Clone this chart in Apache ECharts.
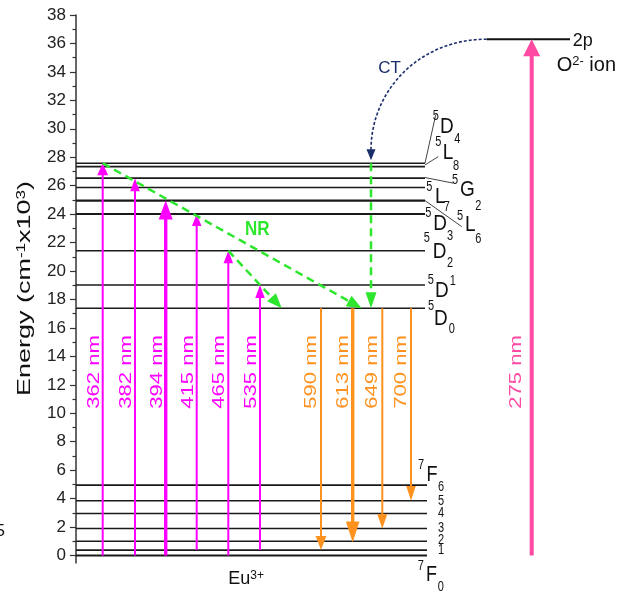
<!DOCTYPE html>
<html><head><meta charset="utf-8">
<script src="https://cdn.jsdelivr.net/npm/echarts@6/dist/echarts.min.js"></script>
<style>html,body{margin:0;padding:0;background:#fff}#c{width:634px;height:593px}</style>
</head><body><div id="c"></div>
<script>
// ---------------- data (energies in 10^3 cm^-1) ----------------
const upperLevelNames = ['5D0','5D1','5D2','5D3','5L6','5L7','5G2','5L8','5D4'];
const upperLevels     = [17.38, 19.02, 21.43, 24.01, 24.95, 25.87, 26.53, 27.34, 27.58];
const lowerLevelNames = ['7F0','7F1','7F2','7F3','7F4','7F5','7F6'];
const lowerLevels     = [0, 0.38, 1.0, 1.9, 2.95, 3.85, 4.95];
const excitationLabels = ['362 nm','382 nm','394 nm','415 nm','465 nm','535 nm'];
const excitationFrom   = [0, 0, 0, 0.38, 0, 0.38];
const excitationTo     = [27.58, 26.53, 24.95, 24.01, 21.43, 19.02];
const emissionLabels = ['590 nm','613 nm','649 nm','700 nm'];
const emissionFrom   = [17.38, 17.38, 17.38, 17.38];
const emissionTo     = [0.38, 0.92, 1.9, 3.85];
const nrFrom = [27.58, 21.43];
const nrTo   = [17.38, 17.38];
const oxygenLevel = 36.3;           // O2- 2p
const ctLabel = '275 nm';
const ctTo = 27.58;                 // charge transfer lands on 5D4
const labelLevel = 12.9;            // height of the vertical nm labels

// ---------------- layout (x in px from the axis) ----------------
const upperEndX = 349, lowerEndX = 351;
const excitationX = [26.7, 59, 89.7, 120.7, 152.3, 184];
const emissionX = [245, 276.7, 306.3, 335];
const nrStartX = [26.7, 152.3], nrEndX = [285.7, 205.7];
const ctDropX = 295;
const oxLineX = [410.7, 494];
const arrow275X = 455.7;

// ---------------- styles ----------------
const FONT = 'Liberation Sans, Arial, Helvetica, sans-serif';
const MAGENTA = '#ff00ff', ORANGE = '#ff921e', GREEN = '#2ee62e', NAVY = '#1a2e6b', PINK = '#ff4aa3';
const upperWidths = [1.6,1.6,1.6,1.8,2.2,1.6,1.6,1.6,1.6];
const lowerWidths = [1.8,1.6,1.6,1.6,1.6,1.6,1.6];
const exLw = [2,2,3.4,2,2,2], exHW = [11,9.5,14,9.5,9.5,9.5], exHL = [12,13,19,12,12.5,13];
const emLw = [2,3.4,2,2], emHW = [10.7,13.5,10,9.5], emHL = [14,21,14.3,14.7];
const upperLabelLayout = [
  [6,-1.6, 9,10, 26.7,21],
  [5.7,-5, 10,5.8, 27.7,-3.3],
  [1.7,-12.4, 7.7,1, 25,12.6],
  [3.3,-0.7, 8.3,9.3, 25,22],
  [35,16, 40,24.3, 53.3,38.6],
  [4.3,-0.4, 10,9.3, 21.7,19.6],
  [30,1.7, 35,11.7, 53.3,27.7],
  [13.3,-24, 17.7,-14.2, 31,0],
  [10.7,-46.6, 15,-36.6, 32.3,-24]
];
const upperConnectors = [null,null,null,null,[0,0,36.7,26],null,[0,-0.6,28.3,5],[0,-1.7,13.3,-10],[0,0,10.7,-48.3]];
const lowerLabelLayout = [
  [-6.3,10.5, -1,19.5, 13.7,31.8],
  [null,null,null,null, 14,0],
  [null,null,null,null, 14,-1.4],
  [null,null,null,null, 14,0],
  [null,null,null,null, 14,0],
  [null,null,null,null, 14,0],
  [-6,-20, -0.5,-10, 14,2.3]
];

function txt(x, y, text, o) {
  o = o || {};
  const style = {text: text, fill: o.color || '#111', fontSize: o.size || 12, fontFamily: FONT,
    fontWeight: o.weight || 'normal', align: o.align || 'center', verticalAlign: o.va || 'middle'};
  if (o.rich) style.rich = o.rich;
  return {type:'text', x: x, y: y, rotation: o.rot || 0, scaleX: o.sx || 1, scaleY: o.sy || 1, style: style};
}
function arrow(p1, p2, lw, hw, hl, color, dash) {
  const dx = p2[0]-p1[0], dy = p2[1]-p1[1], len = Math.hypot(dx, dy);
  const ux = dx/len, uy = dy/len, bx = p2[0]-ux*hl, by = p2[1]-uy*hl, nx = -uy, ny = ux;
  return [
    {type:'line', shape:{x1:p1[0], y1:p1[1], x2:bx+ux*2, y2:by+uy*2}, style:{stroke:color, lineWidth:lw, lineDash: dash || null}},
    {type:'polygon', shape:{points:[[p2[0],p2[1]],[bx+nx*hw/2,by+ny*hw/2],[bx-nx*hw/2,by-ny*hw/2]]}, style:{fill:color}}
  ];
}
function levelLabel(ch, name, lay, ex, ey, mainSize) {
  if (lay[0] !== null) {
    ch.push(txt(ex+lay[0], ey+lay[1], name[0], {size:11, sy:1.25}));
    ch.push(txt(ex+lay[2], ey+lay[3], name[1], {size:mainSize, sy:1.2, align:'left'}));
  }
  ch.push(txt(ex+lay[4], ey+lay[5], name.slice(2), {size:11, sy:1.25}));
}

const levelData = upperLevels.concat(lowerLevels).map(v => [0, v]);

const chart = echarts.init(document.getElementById('c'));
chart.setOption({
  animation: false,
  grid: {left: 76, right: 0, top: 15, bottom: 37.5, containLabel: false, outerBoundsMode: 'none'},
  xAxis: {type:'value', min:0, max:558, show:false},
  yAxis: {type:'value', min:0, max:38, interval:2,
    axisLine:{show:true, lineStyle:{color:'#333', width:1.5}},
    axisTick:{show:true, inside:false, length:6, lineStyle:{color:'#333', width:1.2}},
    minorTick:{show:true, splitNumber:2, length:3.5, lineStyle:{color:'#333', width:1.2}},
    splitLine:{show:false}, minorSplitLine:{show:false},
    axisLabel:{fontSize:17, color:'#222', margin:10, fontFamily:FONT}},
  series: [
    { // axis extension below zero
      type:'custom', silent:true, clip:false, data:[[0,0]],
      renderItem: (p, api) => { const a = api.coord([0,0]);
        return {type:'line', shape:{x1:a[0], y1:a[1], x2:a[0], y2:a[1]+8}, style:{stroke:'#333', lineWidth:1.5}}; }
    },
    { // energy levels
      type:'custom', silent:true, clip:false, data: levelData, encode:{x:0, y:1},
      renderItem: (p, api) => {
        const i = p.dataIndex, y = api.value(1), nU = upperLevels.length, up = i < nU;
        const a = api.coord([0, y]), b = api.coord([up ? upperEndX : lowerEndX, y]);
        const ch = [{type:'line', shape:{x1:a[0], y1:a[1], x2:b[0], y2:b[1]},
          style:{stroke:'#1a1a1a', lineWidth: up ? upperWidths[i] : lowerWidths[i-nU]}}];
        if (up) {
          const c = upperConnectors[i];
          if (c) ch.push({type:'line', shape:{x1:b[0]+c[0], y1:b[1]+c[1], x2:b[0]+c[2], y2:b[1]+c[3]}, style:{stroke:'#444', lineWidth:1}});
          levelLabel(ch, upperLevelNames[i], upperLabelLayout[i], b[0], b[1], 19);
        } else {
          levelLabel(ch, lowerLevelNames[i-nU], lowerLabelLayout[i-nU], b[0], b[1], 18);
        }
        return {type:'group', children: ch};
      }
    },
    { // excitation arrows
      type:'custom', silent:true, clip:false, encode:{x:0, y:[1,2]},
      data: excitationTo.map((v,i) => [excitationX[i], excitationFrom[i], v]),
      renderItem: (p, api) => {
        const i = p.dataIndex, x = api.value(0);
        const ch = arrow(api.coord([x, api.value(1)]), api.coord([x, api.value(2)]), exLw[i], exHW[i], exHL[i], MAGENTA);
        const l = api.coord([x, labelLevel]);
        ch.push(txt(l[0]-8.5, l[1], excitationLabels[i], {size:17, rot:Math.PI/2, sx:1.3, color:MAGENTA}));
        return {type:'group', children: ch};
      }
    },
    { // emission arrows
      type:'custom', silent:true, clip:false, encode:{x:0, y:[1,2]},
      data: emissionTo.map((v,i) => [emissionX[i], emissionFrom[i], v]),
      renderItem: (p, api) => {
        const i = p.dataIndex, x = api.value(0);
        const ch = arrow(api.coord([x, api.value(1)]), api.coord([x, api.value(2)]), emLw[i], emHW[i], emHL[i], ORANGE);
        const l = api.coord([x, labelLevel]);
        ch.push(txt(l[0]-9.5, l[1], emissionLabels[i], {size:17, rot:Math.PI/2, sx:1.3, color:ORANGE}));
        return {type:'group', children: ch};
      }
    },
    { // non-radiative relaxation
      type:'custom', silent:true, clip:false, encode:{x:[0,2], y:[1,3]},
      data: nrFrom.map((v,i) => [nrStartX[i], v, nrEndX[i], nrTo[i]]),
      renderItem: (p, api) => {
        const ch = arrow(api.coord([api.value(0), api.value(1)]), api.coord([api.value(2), api.value(3)]), 2.5, 12, 15, GREEN, [8,5]);
        return {type:'group', children: ch};
      }
    },
    { // O2- 2p level, 275 nm excitation and charge transfer
      type:'custom', silent:true, clip:false, encode:{x:0, y:1},
      data: [[oxLineX[0], oxygenLevel]],
      renderItem: (p, api) => {
        const s = api.coord([oxLineX[0], oxygenLevel]), e = api.coord([oxLineX[1], oxygenLevel]);
        const ch = [{type:'line', shape:{x1:s[0], y1:s[1], x2:e[0], y2:e[1]}, style:{stroke:'#111', lineWidth:2}}];
        ch.push.apply(ch, arrow(api.coord([arrow275X, 0]), api.coord([arrow275X, oxygenLevel]), 4, 17, 17, PINK));
        const l = api.coord([arrow275X, labelLevel]);
        ch.push(txt(l[0]-15, l[1], ctLabel, {size:17, rot:Math.PI/2, sx:1.3, color:PINK}));
        const d = api.coord([ctDropX, ctTo]);
        ch.push({type:'bezierCurve', shape:{x1:s[0], y1:s[1], cpx1:s[0]-67, cpy1:s[1], cpx2:d[0], cpy2:s[1]+51, x2:d[0], y2:d[1]-13},
          style:{stroke:NAVY, lineWidth:1.6, lineDash:[3,2], fill:null}});
        ch.push({type:'polygon', shape:{points:[[d[0], d[1]-3],[d[0]-4.5, d[1]-14],[d[0]+4.5, d[1]-14]]}, style:{fill:NAVY}});
        ch.push.apply(ch, arrow(d, api.coord([ctDropX, upperLevels[0]]), 2.5, 11, 16, GREEN, [8,5]));
        return {type:'group', children: ch};
      }
    }
  ],
  graphic: [
    txt(25, 288.5, '{a|Energy (cm}{s|-1}{a|x10}{s|3}{a|)}', {rot:Math.PI/2, sx:1.42,
      rich:{a:{fontSize:19, fontFamily:FONT, fill:'#111'}, s:{fontSize:12, fontFamily:FONT, fill:'#111', verticalAlign:'top'}}}),
    txt(228.3, 579, '{a|Eu}{s|3+}', {align:'left',
      rich:{a:{fontSize:18, fontFamily:FONT, fill:'#111'}, s:{fontSize:12, fontFamily:FONT, fill:'#111', verticalAlign:'top'}}}),
    txt(572.7, 41, '2p', {size:18, align:'left'}),
    txt(556.7, 65, '{a|O}{s|2-}{a| ion}', {align:'left',
      rich:{a:{fontSize:20, fontFamily:FONT, fill:'#111'}, s:{fontSize:13, fontFamily:FONT, fill:'#111', verticalAlign:'top'}}}),
    txt(378.3, 68, 'CT', {size:17, align:'left', color:NAVY}),
    txt(245, 230, 'NR', {size:17, align:'left', weight:'bold', sy:1.15, color:GREEN}),
    txt(5, 531, '5', {size:17, align:'right', color:'#111'})
  ]
});
</script></body></html>
